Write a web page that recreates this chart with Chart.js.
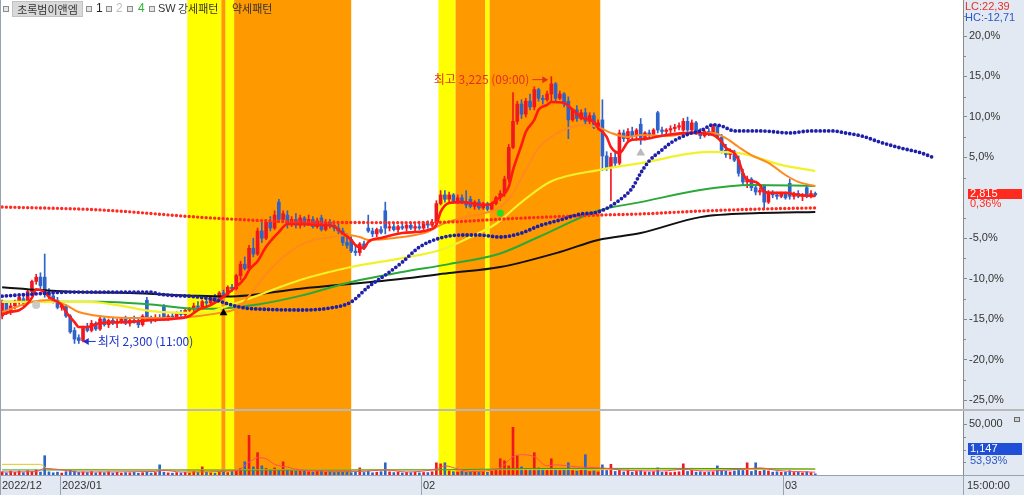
<!DOCTYPE html>
<html><head><meta charset="utf-8">
<script src="https://cdn.jsdelivr.net/npm/chart.js@4.4.0/dist/chart.umd.min.js"></script>
<style>
html,body{margin:0;padding:0;background:#fff;}
#wrap{position:relative;width:1024px;height:495px;overflow:hidden;}
#c{position:absolute;left:0;top:0;}
.hd{position:absolute;top:0;height:17px;line-height:17px;font-size:11px;font-family:'Noto Sans CJK KR','Noto Sans',sans-serif;color:#333;white-space:nowrap;}
.sq{position:absolute;top:6px;width:4px;height:4px;border:1px solid #8c8c8c;background:#e6e6e6;}
</style></head>
<body>
<div id="wrap">
<canvas id="c" width="1024" height="495"></canvas>
<span class="sq" style="left:3px"></span>
<span class="hd" style="left:12px;top:1px;height:16px;line-height:15px;width:71px;background:#d9d9d9;border:1px solid #c2c2c2;box-sizing:border-box;text-align:center;">초록범이앤엠</span>
<span class="sq" style="left:86px"></span>
<span class="hd" style="left:96px;font-family:Arial,sans-serif;font-size:12px;color:#222">1</span>
<span class="sq" style="left:106px"></span>
<span class="hd" style="left:116px;font-family:Arial,sans-serif;font-size:12px;color:#bdbdbd">2</span>
<span class="sq" style="left:127px"></span>
<span class="hd" style="left:138px;font-family:Arial,sans-serif;font-size:12px;color:#2fb52f">4</span>
<span class="sq" style="left:149px"></span>
<span class="hd" style="left:158px;font-family:Arial,sans-serif;font-size:11px;">SW</span>
<span class="hd" style="left:178px;font-size:11px;">강세패턴</span>
<span class="hd" style="left:232px;font-size:11px;">약세패턴</span>
</div>
<script>
// ---------- data ----------
const BASE_PRICE = 2805;          // reference price for % axis
const PCT_MIN = -26.23, PCT_MAX = 24.45;
const pctTicks = [20, 15, 10, 5, -5, -10, -15, -20, -25];
const volTicks = [50000];
const VOL_MAX = 64000;
const X_MIN = -0.5, X_MAX = 225.7;
const VOL_RATIO_TEXT = '53,93%';
const TIME_TEXT = '15:00:00';

const opens = [2395,2440,2410,2430,2445,2455,2440,2480,2515,2530,
 2530,2475,2465,2450,2425,2430,2395,2345,2320,2310,
 2355,2345,2370,2350,2385,2365,2380,2370,2375,2385,
 2370,2380,2375,2365,2450,2385,2380,2390,2430,2390,
 2395,2390,2405,2400,2415,2420,2430,2425,2445,2440,
 2460,2450,2475,2470,2495,2490,2535,2575,2560,2630,
 2610,2690,2665,2720,2700,2790,2730,2745,2715,2730,
 2710,2735,2715,2730,2705,2735,2695,2720,2710,2700,
 2690,2650,2660,2620,2615,2645,2700,2690,2680,2695,
 2760,2700,2705,2695,2705,2700,2710,2700,2705,2700,
 2715,2710,2720,2785,2815,2800,2815,2795,2805,2790,
 2800,2775,2790,2770,2785,2765,2785,2805,2820,2870,
 2980,3070,3130,3095,3140,3120,3180,3150,3145,3165,
 3200,3150,3165,3140,3075,3110,3080,3100,3070,3090,
 3050,3075,2950,2910,2945,2925,3030,3010,3035,3020,
 3060,3010,3030,3025,3100,3040,3035,3040,3045,3050,
 3040,3070,3040,3065,3030,3020,3035,3030,3050,3015,
 2970,2955,2965,2935,2890,2860,2870,2840,2825,2845,
 2790,2820,2815,2810,2820,2855,2810,2820,2810,2840,
 2810,2820];
const highs = [2450,2445,2440,2450,2470,2465,2485,2520,2540,2545,
 2610,2490,2475,2460,2445,2435,2400,2355,2330,2360,
 2370,2380,2375,2395,2390,2385,2390,2385,2390,2395,
 2390,2395,2385,2400,2460,2395,2400,2400,2435,2400,
 2405,2410,2415,2420,2425,2440,2445,2450,2460,2465,
 2470,2480,2485,2500,2505,2540,2585,2600,2640,2665,
 2700,2720,2730,2740,2760,2800,2760,2760,2740,2750,
 2745,2740,2745,2740,2735,2745,2730,2730,2725,2715,
 2700,2680,2670,2640,2650,2655,2745,2700,2700,2705,
 2790,2715,2720,2710,2720,2715,2720,2715,2715,2720,
 2725,2730,2795,2830,2830,2825,2820,2815,2815,2830,
 2810,2795,2800,2790,2790,2790,2810,2830,2880,2990,
 3170,3140,3145,3150,3165,3190,3185,3160,3175,3225,
 3205,3175,3170,3155,3115,3125,3110,3115,3100,3100,
 3075,3145,2965,2960,2960,3040,3040,3045,3050,3045,
 3080,3035,3040,3045,3105,3050,3045,3055,3060,3065,
 3080,3085,3075,3070,3045,3040,3045,3060,3055,3025,
 2990,2975,2970,2950,2905,2880,2875,2850,2840,2850,
 2830,2830,2825,2825,2825,2870,2825,2830,2820,2850,
 2830,2825];
const lows = [2385,2400,2400,2420,2435,2430,2435,2470,2505,2490,
 2460,2455,2440,2420,2415,2390,2335,2300,2300,2305,
 2340,2340,2345,2345,2360,2355,2365,2355,2370,2365,
 2360,2370,2355,2360,2380,2370,2375,2380,2380,2380,
 2385,2385,2390,2395,2405,2410,2420,2420,2430,2435,
 2445,2445,2460,2465,2480,2485,2520,2555,2555,2600,
 2605,2650,2660,2690,2695,2720,2720,2700,2705,2700,
 2700,2705,2710,2700,2700,2690,2690,2700,2690,2680,
 2640,2630,2615,2605,2605,2625,2685,2670,2670,2680,
 2680,2690,2690,2685,2695,2690,2695,2690,2695,2695,
 2700,2705,2715,2780,2790,2790,2790,2785,2785,2770,
 2770,2765,2765,2765,2760,2760,2780,2795,2810,2860,
 2975,3060,3080,3085,3110,3110,3140,3130,3140,3140,
 3140,3145,3120,3010,3070,3070,3075,3060,3060,3045,
 3040,2900,2900,2795,2910,2920,3000,3000,3010,3005,
 2990,3005,3015,3020,3030,3025,3020,3030,3035,3040,
 3035,3035,3035,3025,3010,3015,3020,3025,3010,2960,
 2945,2940,2930,2880,2850,2840,2830,2815,2815,2765,
 2785,2805,2800,2805,2800,2800,2800,2805,2795,2805,
 2805,2810];
const closes = [2440,2410,2430,2445,2460,2440,2480,2515,2530,2500,
 2470,2465,2450,2425,2435,2395,2340,2315,2310,2355,
 2345,2370,2350,2385,2365,2380,2370,2375,2385,2370,
 2380,2375,2365,2395,2385,2380,2390,2385,2390,2395,
 2390,2405,2400,2415,2420,2430,2425,2445,2440,2460,
 2450,2475,2470,2495,2490,2535,2575,2560,2630,2610,
 2690,2665,2720,2700,2745,2730,2750,2715,2730,2710,
 2735,2715,2730,2705,2725,2695,2720,2710,2700,2690,
 2650,2640,2620,2615,2645,2635,2690,2680,2695,2685,
 2700,2705,2695,2705,2700,2710,2700,2705,2700,2715,
 2710,2720,2785,2815,2800,2815,2795,2805,2790,2780,
 2775,2790,2770,2785,2765,2785,2805,2820,2870,2980,
 3070,3130,3095,3140,3120,3180,3150,3145,3165,3200,
 3150,3165,3130,3075,3110,3080,3100,3070,3090,3050,
 3065,2950,2910,2945,2925,3030,3010,3035,3020,3040,
 3010,3030,3025,3040,3040,3035,3040,3045,3050,3055,
 3070,3040,3065,3030,3020,3035,3030,3050,3015,2970,
 2955,2965,2935,2890,2860,2870,2840,2825,2830,2790,
 2820,2815,2810,2820,2805,2810,2820,2810,2815,2810,
 2820,2815];
const volumes = [3200,2100,3800,2600,3900,2400,4200,3500,4800,2900,
 19000,3100,2200,2800,1900,3300,4500,3900,2600,3000,
 2500,3400,2100,2900,2300,3100,2000,2700,1800,2400,
 2200,2600,1700,2300,2900,1900,2500,10000,2800,2100,
 1800,2400,2000,2600,1900,3300,2500,8000,2700,2200,
 1800,2600,3100,2400,3500,4600,6500,13000,39000,8000,
 22000,9000,6500,5500,7000,4500,13000,5000,4200,3600,
 3800,4400,3200,2900,3600,4100,2700,3300,2500,3000,
 2700,3400,2300,2800,7000,2500,3600,2200,2700,3300,
 12000,3100,2400,2800,2000,2600,2300,2900,2100,2500,
 2400,3200,12000,11000,12000,4000,3300,2800,3500,2600,
 2900,3400,2500,3100,2700,3800,5000,16000,14000,9000,
 47000,19000,8000,6000,5000,22000,7000,5500,4800,16000,
 6000,4500,5200,12000,4500,3800,5000,20000,3500,4000,
 3000,10000,4500,10500,3500,5000,3000,6000,2800,3500,
 4200,3100,2900,3300,7000,2600,3000,2400,2800,3200,
 11000,3500,4500,2800,3200,2600,3000,3100,9000,4200,
 3600,3000,3800,4500,4500,12000,3500,12000,3600,5500,
 4000,2800,3200,2600,3000,4200,2500,2800,2200,3300,
 2400,1147];

// moving-average lines: [barIndex, price]
const ma5 = [[0,2400],[2,2410],[4,2415],[7,2458],[8,2488],[10,2478],[11,2461],[14,2433],[15,2409],[17,2374],[18,2357],[20,2357],[23,2371],[29,2374],[35,2381],[40,2385],[44,2395],[46,2416],[49,2433],[51,2451],[54,2485],[57,2527],[58,2555],[60,2585],[62,2635],[65,2686],[67,2714],[70,2714],[74,2711],[78,2707],[79,2693],[82,2659],[83,2641],[85,2631],[86,2652],[89,2666],[94,2683],[98,2687],[100,2693],[102,2711],[103,2756],[105,2787],[108,2790],[113,2780],[115,2784],[116,2797],[119,2843],[120,2901],[121,2946],[122,2988],[123,3033],[125,3075],[126,3110],[128,3127],[129,3137],[132,3134],[134,3110],[136,3085],[139,3068],[140,3047],[142,3016],[143,2981],[145,2960],[147,2999],[148,3006],[151,3009],[156,3023],[162,3030],[167,3023],[169,2999],[170,2978],[172,2960],[173,2935],[174,2891],[175,2867],[177,2860],[178,2849],[179,2825],[181,2822],[184,2822],[187,2815],[191,2811]];
const ma10 = [[0,2409],[7,2444],[11,2451],[13,2444],[15,2433],[18,2409],[21,2399],[25,2392],[30,2388],[40,2388],[46,2395],[51,2406],[56,2428],[58,2465],[62,2540],[66,2600],[70,2640],[74,2662],[78,2669],[81,2676],[84,2669],[86,2659],[90,2662],[94,2669],[100,2687],[103,2711],[108,2735],[114,2755],[117,2773],[120,2821],[123,2901],[126,2978],[129,3016],[133,3047],[137,3057],[140,3050],[143,3030],[147,3016],[150,3023],[156,3019],[162,3030],[167,3030],[170,3012],[173,2981],[176,2953],[180,2926],[184,2884],[187,2860],[190,2849],[191,2846]];
const ma60 = [[0,2444],[20,2444],[27,2433],[35,2412],[44,2406],[48,2406],[51,2420],[58,2455],[70,2520],[82,2565],[94,2596],[103,2624],[110,2669],[116,2715],[122,2790],[129,2862],[140,2901],[150,2925],[166,2964],[173,2960],[183,2919],[191,2898]];
const ma20g = [[0,2445],[12,2445],[23,2445],[35,2435],[46,2420],[53,2423],[60,2435],[70,2465],[82,2513],[94,2548],[105,2575],[117,2612],[126,2669],[140,2760],[150,2790],[164,2832],[176,2849],[191,2846]];
const ma120 = [[0,2495],[9,2485],[18,2478],[30,2475],[46,2465],[53,2463],[70,2490],[93,2523],[105,2544],[117,2565],[131,2617],[140,2659],[150,2683],[164,2738],[178,2752],[191,2756]];
const redDots = [[0,2773],[23,2763],[46,2738],[58,2728],[70,2721],[94,2719],[105,2721],[117,2731],[140,2745],[150,2749],[164,2759],[178,2766],[191,2770]];
const blueDots = [[0,2464],[7,2471],[16,2478],[35,2478],[37,2471],[46,2461],[50,2451],[54,2433],[57,2423],[61,2419],[70,2416],[77,2423],[82,2444],[86,2496],[90,2537],[94,2582],[98,2634],[103,2666],[108,2676],[112,2676],[117,2669],[122,2683],[126,2707],[131,2728],[136,2749],[140,2756],[145,2797],[148,2839],[150,2891],[152,2933],[155,2971],[157,2995],[159,3012],[162,3030],[164,3037],[167,3058],[169,3054],[172,3037],[178,3037],[185,3030],[190,3037],[195,3037],[198,3030],[202,3019],[206,2999],[211,2978],[216,2960],[219,2943]];
const volMaGreen = [[0,5000],[50,4800],[100,5000],[130,6500],[160,6500],[191,6000]];
const volMaYellow = [[0,10500],[9,10500],[11,5500],[60,5200],[191,5400]];
const volMaPink = [[0,3000],[8,3400],[10,6500],[14,5000],[18,3000],[36,3500],[38,4500],[42,3000],[55,4200],[58,12500],[60,17000],[62,16000],[64,10500],[67,7800],[70,5000],[84,3500],[90,5000],[95,3000],[102,6000],[104,9000],[107,6000],[110,3500],[117,7000],[120,18000],[122,20000],[125,18000],[128,9000],[130,10000],[135,8000],[138,7500],[142,6500],[145,5000],[155,4000],[160,5500],[165,4000],[175,6000],[178,7000],[182,4500],[191,2800]];

// pattern bands: [fromIndex, toIndex, kind]
const bands = [[43.5,51.5,'strong'],[51.5,52.5,'weak'],[52.5,54.5,'strong'],[54.5,82,'weak'],
               [102.5,106.5,'strong'],[106.5,113.5,'weak'],[113.5,114.5,'strong'],[114.5,140.5,'weak']];
const dateMarks = [[-0.5,'2022/12'],[13.5,'2023/01'],[98.5,'02'],[183.5,'03']];
const signalIdx = [8, 52, 117, 150];
const signalPrice = [2433, 2406, 2752, 2960];
const highNote = [129, 3225, '최고 3,225 (09:00)'];
const lowNote = [18, 2300, '최저 2,300 (11:00)'];

// ---------- chart ----------
const UP = '#f01820', DOWN = '#2e63c9';
const ORANGE_BAND = '#ff9900', YELLOW_BAND = '#ffff00';
const PANEL_BG = '#e3e9f2';
const idx = closes.map((_, i) => i);
const up = i => closes[i] >= opens[i];
const candleColors = idx.map(i => up(i) ? UP : DOWN);
const pctOf = v => (v / BASE_PRICE - 1) * 100;
const fmtPct = (p, d) => p.toFixed(d).replace('.', ',') + '%';
const fmtNum = n => n.toLocaleString('en-US');
const STEP = 963 / (X_MAX - X_MIN);

function lineDs(pts, color, width, order, axis, extra) {
  return Object.assign({type: 'line', data: pts.map(([x, y]) => ({x, y})), borderColor: color,
    borderWidth: width, pointRadius: 0, cubicInterpolationMode: 'monotone', fill: false,
    order, yAxisID: axis || 'y'}, extra || {});
}
function noPad(s) { s.width = 61; s.paddingTop = 0; s.paddingBottom = 0; s.paddingLeft = 0; s.paddingRight = 0; }

const panelPlugin = {
  id: 'panel',
  beforeDraw(chart) {
    const {ctx, chartArea: ca, width, height} = chart;
    ctx.save();
    ctx.fillStyle = '#ffffff'; ctx.fillRect(0, 0, width, height);
    ctx.fillStyle = PANEL_BG;
    ctx.fillRect(ca.right, 0, width - ca.right, height);
    ctx.fillRect(0, ca.bottom, width, height - ca.bottom);
    ctx.restore();
  },
  beforeDatasetsDraw(chart) {
    const {ctx, chartArea: ca, scales: {x}} = chart;
    ctx.save();
    for (const [a, b, kind] of bands) {
      const x0 = x.getPixelForValue(a), x1 = x.getPixelForValue(b);
      ctx.fillStyle = kind === 'strong' ? YELLOW_BAND : ORANGE_BAND;
      ctx.fillRect(x0, ca.top, x1 - x0, ca.bottom - ca.top);
    }
    ctx.restore();
  },
  afterDraw(chart) {
    const {ctx, chartArea: ca, scales: {x, y, yv}, width, height} = chart;
    ctx.save();
    // separators
    ctx.strokeStyle = '#b9b9b9'; ctx.lineWidth = 2;
    ctx.beginPath(); ctx.moveTo(0, yv.top); ctx.lineTo(width, yv.top); ctx.stroke();
    ctx.strokeStyle = '#9aa2b0'; ctx.lineWidth = 1;
    ctx.beginPath(); ctx.moveTo(0, ca.bottom + 0.5); ctx.lineTo(width, ca.bottom + 0.5); ctx.stroke();
    ctx.beginPath(); ctx.moveTo(0.5, 0); ctx.lineTo(0.5, height); ctx.stroke();
    // minor ticks
    ctx.strokeStyle = '#8a8a8a';
    for (let p = -25; p <= 22.5; p += 2.5) {
      if (p % 5 === 0) continue;
      const py = Math.round(y.getPixelForValue(BASE_PRICE * (1 + p / 100))) + 0.5;
      ctx.beginPath(); ctx.moveTo(ca.right, py); ctx.lineTo(ca.right + 3, py); ctx.stroke();
    }
    for (const v of [12500, 25000, 37500]) {
      const py = Math.round(yv.getPixelForValue(v)) + 0.5;
      ctx.beginPath(); ctx.moveTo(ca.right, py); ctx.lineTo(ca.right + 3, py); ctx.stroke();
    }
    // date row
    ctx.font = '11px Arial, "Liberation Sans", sans-serif';
    ctx.textBaseline = 'middle'; ctx.textAlign = 'left';
    const rowY = ca.bottom + 10.5;
    for (const [v, label] of dateMarks) {
      const px = Math.round(x.getPixelForValue(v));
      if (px > 2) {
        ctx.strokeStyle = '#9aa2b0';
        ctx.beginPath(); ctx.moveTo(px + 0.5, ca.bottom); ctx.lineTo(px + 0.5, height); ctx.stroke();
      }
      ctx.fillStyle = '#333'; ctx.fillText(label, Math.max(px, 0) + 2, rowY);
    }
    ctx.strokeStyle = '#9aa2b0';
    ctx.beginPath(); ctx.moveTo(ca.right + 0.5, ca.bottom); ctx.lineTo(ca.right + 0.5, height); ctx.stroke();
    ctx.fillStyle = '#333'; ctx.fillText(TIME_TEXT, ca.right + 4, rowY);
    // right panel info
    const last = closes[closes.length - 1];
    const lo = Math.min(...lows), hi = Math.max(...highs);
    ctx.fillStyle = '#e2322a'; ctx.fillText('LC:' + ((last / lo - 1) * 100).toFixed(2).replace('.', ','), ca.right + 2, 7);
    ctx.fillStyle = '#2a57c8'; ctx.fillText('HC:' + ((last / hi - 1) * 100).toFixed(2).replace('.', ','), ca.right + 2, 18);
    const py = y.getPixelForValue(last);
    ctx.fillStyle = '#ff2a1f'; ctx.fillRect(ca.right + 5, Math.round(py) - 6, width - ca.right - 7, 10);
    ctx.fillStyle = '#ffffff'; ctx.fillText(fmtNum(last), ca.right + 7, Math.round(py) - 1);
    ctx.fillStyle = '#ff2a1f'; ctx.fillText(fmtPct(pctOf(last), 2), ca.right + 7, Math.round(py) + 9);
    const vy = yv.top + 33;
    ctx.fillStyle = '#1f4fd6'; ctx.fillRect(ca.right + 5, vy, width - ca.right - 7, 12);
    ctx.fillStyle = '#ffffff'; ctx.fillText(fmtNum(volumes[volumes.length - 1]), ca.right + 7, vy + 6);
    ctx.fillStyle = '#2a57c8'; ctx.fillText(VOL_RATIO_TEXT, ca.right + 7, vy + 18);
    // small panel icon
    ctx.fillStyle = '#6a6a6a'; ctx.fillRect(width - 10, yv.top + 7, 6, 5);
    ctx.fillStyle = '#cfcfcf'; ctx.fillRect(width - 9, yv.top + 8, 4, 3);
    // high / low notes
    ctx.font = '12px "Noto Sans CJK KR", sans-serif';
    const hx = x.getPixelForValue(highNote[0]) - 3, hy = y.getPixelForValue(highNote[1]) + 3;
    ctx.strokeStyle = ctx.fillStyle = '#e3301c'; ctx.lineWidth = 1;
    ctx.beginPath(); ctx.moveTo(hx - 16, hy); ctx.lineTo(hx - 4, hy); ctx.stroke();
    ctx.beginPath(); ctx.moveTo(hx, hy); ctx.lineTo(hx - 6, hy - 3.5); ctx.lineTo(hx - 6, hy + 3.5); ctx.closePath(); ctx.fill();
    ctx.textAlign = 'right'; ctx.fillText(highNote[2], hx - 19, hy);
    const lx = x.getPixelForValue(lowNote[0]) + 4, ly = y.getPixelForValue(lowNote[1]) - 2;
    ctx.strokeStyle = ctx.fillStyle = '#1e35c8';
    ctx.beginPath(); ctx.moveTo(lx + 4, ly); ctx.lineTo(lx + 13, ly); ctx.stroke();
    ctx.beginPath(); ctx.moveTo(lx, ly); ctx.lineTo(lx + 6, ly - 3.5); ctx.lineTo(lx + 6, ly + 3.5); ctx.closePath(); ctx.fill();
    ctx.textAlign = 'left'; ctx.fillText(lowNote[2], lx + 15, ly);
    ctx.restore();
  }
};

Chart.defaults.font.family = 'Arial, "Liberation Sans", sans-serif';
Chart.defaults.font.size = 11;

new Chart(document.getElementById('c'), {
  type: 'line',
  data: {
    datasets: [
      {type: 'bar', data: idx.map(i => ({x: i, y: volumes[i]})), backgroundColor: candleColors,
       barThickness: 2, grouped: false, order: 20, yAxisID: 'yv'},
      lineDs(volMaYellow, '#e6c619', 1, 19, 'yv'),
      lineDs(volMaGreen, '#2aa52a', 1, 18, 'yv'),
      lineDs(volMaPink, '#ff4d5e', 1, 17, 'yv'),
      {type: 'bar', data: idx.map(i => ({x: i, y: [lows[i], highs[i]]})), backgroundColor: candleColors,
       barThickness: 1, grouped: false, order: 16, yAxisID: 'y'},
      {type: 'bar', data: idx.map(i => ({x: i, y: [opens[i], closes[i]]})), backgroundColor: candleColors,
       barThickness: 3, minBarLength: 1, grouped: false, order: 15, yAxisID: 'y'},
      lineDs(ma120, '#111111', 2, 9),
      lineDs(ma20g, '#2aa83a', 2, 8),
      lineDs(ma60, '#f2f22a', 2.2, 7),
      lineDs(ma10, '#ff8a1c', 2, 6),
      lineDs(ma5, '#ff1a14', 2.6, 5),
      lineDs(redDots, '#ff2a22', 3.4, 4, 'y', {borderDash: [0, STEP], borderCapStyle: 'round'}),
      lineDs(blueDots, '#1f20a8', 3.8, 3, 'y', {borderDash: [0, STEP], borderCapStyle: 'round'}),
      {type: 'line', showLine: false, order: 1, yAxisID: 'y',
       data: signalIdx.map((v, k) => ({x: v, y: signalPrice[k]})),
       pointStyle: ['circle', 'triangle', 'circle', 'triangle'],
       pointRadius: [4, 4.5, 3.5, 5],
       pointBackgroundColor: ['#c9c9c9', '#000000', '#22dd22', '#b9b9b9'],
       pointBorderColor: ['#c9c9c9', '#000000', '#22dd22', '#b9b9b9'], pointBorderWidth: 0}
    ]
  },
  options: {
    responsive: false, animation: false, events: [], devicePixelRatio: 1,
    layout: {autoPadding: false, padding: {left: 0, right: 0, top: 0, bottom: 20}},
    plugins: {legend: {display: false}, tooltip: {enabled: false}, title: {display: false}},
    scales: {
      x: {type: 'linear', display: false, min: X_MIN, max: X_MAX, offset: false},
      y: {type: 'linear', position: 'right', stack: 'panes', stackWeight: 410, weight: 0, offset: false,
          min: BASE_PRICE * (1 + PCT_MIN / 100), max: BASE_PRICE * (1 + PCT_MAX / 100),
          afterFit: noPad,
          afterBuildTicks: s => { s.ticks = pctTicks.map(p => ({value: BASE_PRICE * (1 + p / 100)})); },
          ticks: {autoSkip: false, padding: 2, color: '#333', font: {size: 11}, callback: v => fmtPct(Math.round(pctOf(v) * 10) / 10, 1)},
          grid: {drawOnChartArea: false, tickLength: 4, color: '#8a8a8a'},
          border: {color: '#8a8a8a'}},
      yv: {type: 'linear', position: 'right', stack: 'panes', stackWeight: 65, weight: 1, offset: false,
          min: 0, max: VOL_MAX,
          afterFit: noPad,
          afterBuildTicks: s => { s.ticks = volTicks.map(v => ({value: v})); },
          ticks: {autoSkip: false, padding: 2, color: '#333', font: {size: 11}, callback: v => fmtNum(v)},
          grid: {drawOnChartArea: false, tickLength: 4, color: '#8a8a8a'},
          border: {color: '#8a8a8a'}}
    }
  },
  plugins: [panelPlugin]
});
</script>
</body></html>
